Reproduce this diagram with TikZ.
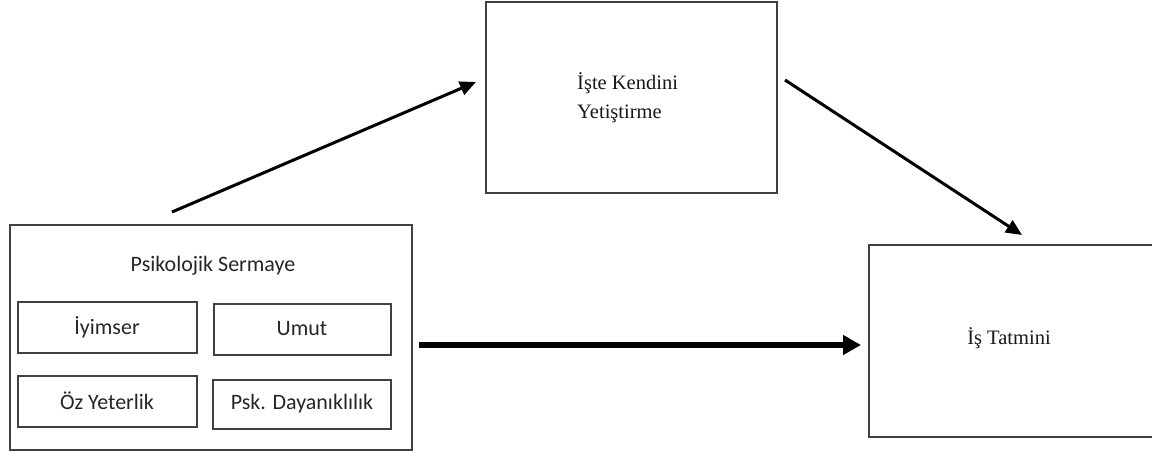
\documentclass[tikz,border=0pt]{standalone}
\usepackage{fontspec}
\setmainfont{Liberation Serif}
\newfontfamily\calib{Carlito}
\usetikzlibrary{arrows.meta}
\begin{document}
\begin{tikzpicture}[x=1pt,y=-1pt,
  frame/.style={draw=black!75, line width=1.6pt},
  sanslabel/.style={font=\calib\fontsize{22}{26}\selectfont, text=black!85, inner sep=0},
  seriflabel/.style={font=\fontsize{20.5}{29}\selectfont, text=black!90, inner sep=0},
  thinarrow/.style={line width=3pt, -{Triangle[length=16pt,width=14pt]}},
  thickarrow/.style={line width=6pt, -{Triangle[length=18pt,width=19pt]}}]
\useasboundingbox (0,0) rectangle (1152,454);
\fill[white] (0,0) rectangle (1152,454);
% boxes
\draw[frame] (10,225) rectangle (412,450);
\draw[frame] (18,302) rectangle (197,353);
\draw[frame] (214,304) rectangle (391,355);
\draw[frame] (18,376) rectangle (197,427);
\draw[frame] (213,380) rectangle (391,429);
\draw[frame] (486,2) rectangle (777,193);
\draw[frame] (869,245) rectangle (1170,437);
% labels
\node[sanslabel] (psy) at (213,266) {Psikolojik Sermaye};
\node[sanslabel] (iyi) at (107,327) {İyimser};
\node[sanslabel] (umut) at (302,329) {Umut};
\node[sanslabel] (oz) at (107,401) {Öz Yeterlik};
\node[sanslabel] (psk) at (302,404) {Psk. Dayanıklılık};
\node[seriflabel, anchor=west, align=left] (iste) at (577,98) {İşte Kendini\\Yetiştirme};
\node[seriflabel] (tat) at (1009,338) {İş Tatmini};
% connector ends
\coordinate (a1s) at (172,212);
\coordinate (a1e) at (476,82);
\coordinate (a2s) at (785,80);
\coordinate (a2e) at (1022,235);
\coordinate (a3s) at (419,345);
\coordinate (a3e) at (861,345);
\draw[thinarrow] (a1s) -- (a1e);
\draw[thinarrow] (a2s) -- (a2e);
\draw[thickarrow] (a3s) -- (a3e);
\end{tikzpicture}
\end{document}
